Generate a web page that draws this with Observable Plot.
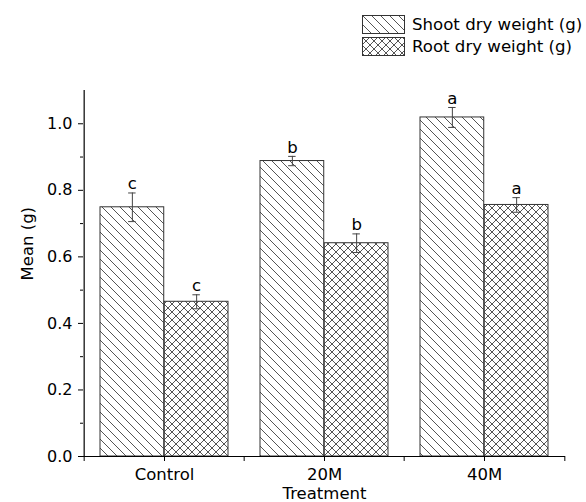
<!DOCTYPE html>
<html><head><meta charset="utf-8">
<script src="https://cdn.jsdelivr.net/npm/d3@7"></script>
<script src="https://cdn.jsdelivr.net/npm/@observablehq/plot@0.6"></script>
<style>
body{margin:0;background:#fff;font-family:"DejaVu Sans",sans-serif;}
#wrap{position:relative;width:586px;}
#legend{position:relative;height:60px;}
.row{position:absolute;left:362px;height:18px;display:flex;align-items:center;font-size:16.6px;color:#000;white-space:nowrap;}
.row svg{margin-right:7px;display:block;}
</style></head><body>
<div id="wrap"><div id="legend"></div><div id="chart"></div></div>
<script>
const categories = ["Control", "20M", "40M"];
const seriesNames = ["Shoot dry weight (g)", "Root dry weight (g)"];
const shootMean = [0.749, 0.888, 1.019];
const shootErr = [0.043, 0.014, 0.030];
const rootMean = [0.465, 0.641, 0.756];
const rootErr = [0.021, 0.028, 0.022];
const shootLetters = ["c", "b", "a"];
const rootLetters = ["c", "b", "a"];
const yTicks = [0, 0.2, 0.4, 0.6, 0.8, 1.0];
const yMinorTicks = [0.1, 0.3, 0.5, 0.7, 0.9];
const yLabel = "Mean (g)";
const xLabel = "Treatment";

const shoot = categories.map((c, i) => ({treatment: c, mean: shootMean[i], err: shootErr[i], letter: shootLetters[i]}));
const root = categories.map((c, i) => ({treatment: c, mean: rootMean[i], err: rootErr[i], letter: rootLetters[i]}));

const W = 586, H = 442, ml = 83, mr = 21, mt = 30, mb = 46;
const pin = 0.2, pout = 0.1;
const step = (W - ml - mr) / (categories.length - pin + 2 * pout);
const bw = step * (1 - pin);
const half = bw / 2, q = bw / 4;

const patterns = `
<pattern id="pShoot" patternUnits="userSpaceOnUse" width="9" height="9">
  <rect width="9" height="9" fill="white"/>
  <path d="M0,0L9,9M-1,8L1,10M8,-1L10,1" stroke="#555" stroke-width="1"/>
</pattern>
<pattern id="pRoot" patternUnits="userSpaceOnUse" width="8" height="8">
  <rect width="8" height="8" fill="white"/>
  <path d="M0,0L8,8M0,8L8,0" stroke="#555" stroke-width="1"/>
</pattern>`;

// legend
const legend = d3.select("#legend");
[["pShoot", seriesNames[0], 15], ["pRoot", seriesNames[1], 37]].forEach(([pid, name, top]) => {
  const row = legend.append("div").attr("class", "row").style("top", top + "px");
  const s = row.append("svg").attr("width", 43).attr("height", 19);
  s.append("defs").html(patterns.replace(/id="(p\w+)"/g, 'id="L$1' + top + '"'));
  s.append("rect").attr("x", 0.5).attr("y", 0.5).attr("width", 42).attr("height", 18)
    .attr("fill", `url(#L${pid}${top})`).attr("stroke", "#333");
  row.append("span").text(name);
});

const yTop = d => d.mean + d.err, yBot = d => d.mean - d.err;
const errColor = "#444";

const chart = Plot.plot({
  width: W, height: H,
  marginLeft: ml, marginRight: mr, marginTop: mt, marginBottom: mb,
  style: {fontFamily: "DejaVu Sans", fontSize: "16px", background: "white", color: "black"},
  x: {domain: categories, paddingInner: pin, paddingOuter: pout, label: null},
  y: {domain: [0, 1.1], label: null},
  marks: [
    Plot.barY(shoot, {x: "treatment", y: "mean", fill: "url(#pShoot)", stroke: "#333", strokeWidth: 1, insetRight: half}),
    Plot.barY(root, {x: "treatment", y: "mean", fill: "url(#pRoot)", stroke: "#333", strokeWidth: 1, insetLeft: half}),
    Plot.ruleX(shoot, {x: "treatment", y1: yBot, y2: yTop, dx: -q, stroke: errColor}),
    Plot.tickY(shoot, {x: "treatment", y: yTop, dx: -q, inset: half - 4, stroke: errColor}),
    Plot.tickY(shoot, {x: "treatment", y: yBot, dx: -q, inset: half - 4, stroke: errColor}),
    Plot.ruleX(root, {x: "treatment", y1: yBot, y2: yTop, dx: q, stroke: errColor}),
    Plot.tickY(root, {x: "treatment", y: yTop, dx: q, inset: half - 4, stroke: errColor}),
    Plot.tickY(root, {x: "treatment", y: yBot, dx: q, inset: half - 4, stroke: errColor}),
    Plot.text(shoot, {x: "treatment", y: yTop, text: "letter", dx: -q, dy: -3.5, lineAnchor: "bottom", fontSize: 16.5}),
    Plot.text(root, {x: "treatment", y: yTop, text: "letter", dx: q, dy: -3.5, lineAnchor: "bottom", fontSize: 16.5}),
    Plot.ruleY([0], {stroke: "black", strokeWidth: 1.2}),
    Plot.ruleX([categories[0]], {y1: 0, y2: 1.1, dx: -step / 2, stroke: "black", strokeWidth: 1.2}),
    Plot.axisY(yTicks, {tickSize: 5, tickPadding: 6, tickFormat: d3.format(".1f"), fontSize: 16, label: null}),
    Plot.axisY(yMinorTicks, {tickSize: 3, tickFormat: () => "", label: null}),
    Plot.axisX({tickSize: 5, tickPadding: 7, fontSize: 16.5, label: null}),
    Plot.axisX({tickSize: 5, tickFormat: () => "", dx: -step / 2, label: null}),
    Plot.axisX([categories[categories.length - 1]], {tickSize: 5, tickFormat: () => "", dx: step / 2, label: null}),
    Plot.text([yLabel], {text: d => d, frameAnchor: "left", rotate: -90, dx: -56, dy: 7, fontSize: 16.5}),
    Plot.text([xLabel], {text: d => d, frameAnchor: "bottom", lineAnchor: "bottom", dy: 42, fontSize: 16.5})
  ]
});
d3.select(chart).insert("defs", ":first-child").html(patterns);
document.getElementById("chart").append(chart);
</script>
</body></html>
